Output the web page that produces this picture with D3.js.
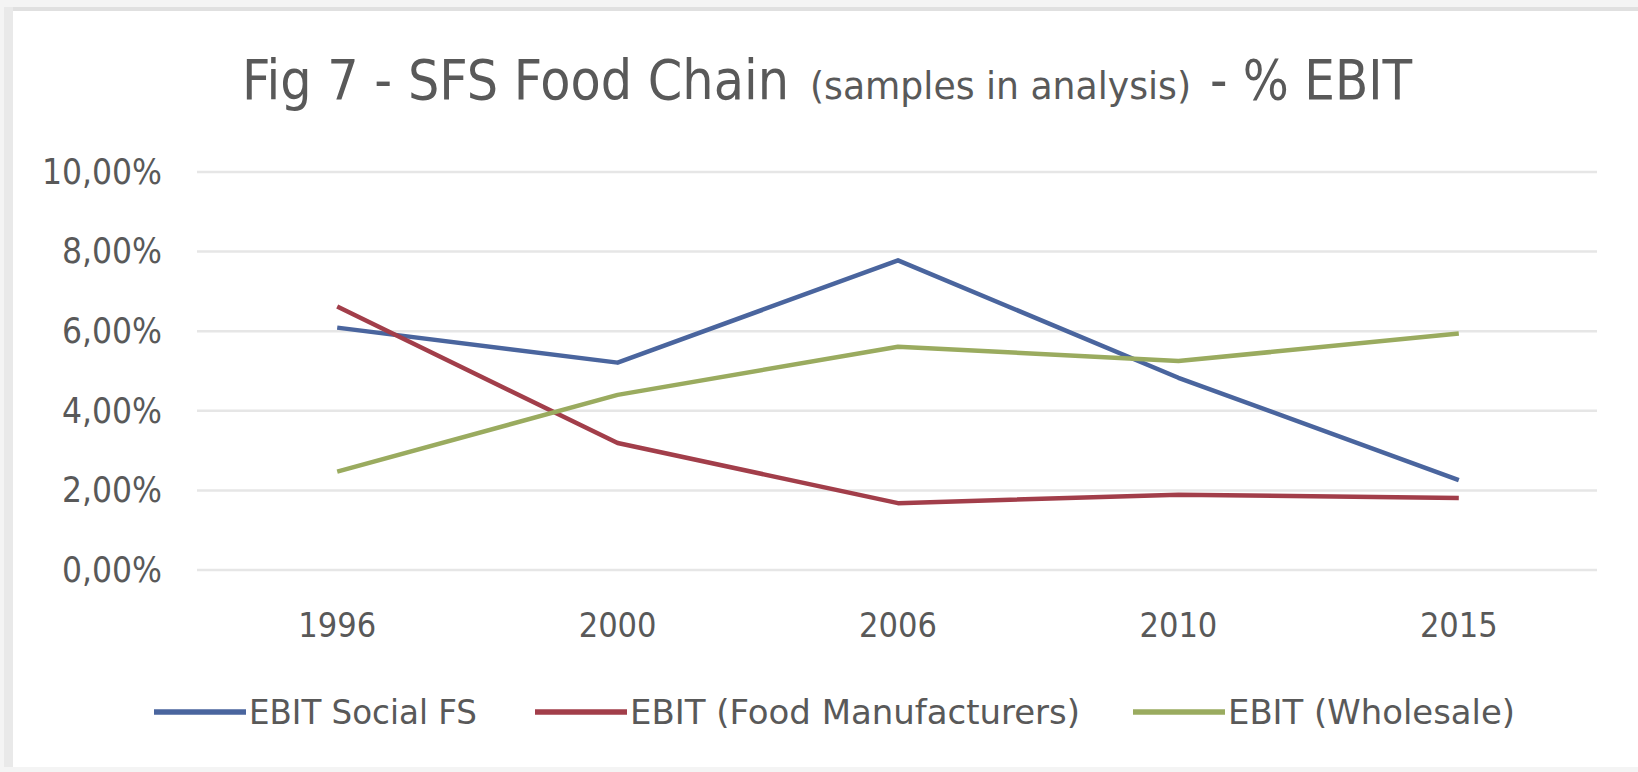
<!DOCTYPE html>
<html>
<head>
<meta charset="utf-8">
<script src="https://cdn.jsdelivr.net/npm/d3@7"></script>
<style>
  html, body { margin: 0; padding: 0; background: #f4f4f4; }
  svg { display: block; }
  text { font-family: "DejaVu Sans Condensed", "Liberation Sans Narrow", "Open Sans", sans-serif; fill: #595959; }
</style>
</head>
<body>
<svg id="chart" width="1638" height="772"></svg>
<script>
// ---- data ----
const categories = ["1996", "2000", "2006", "2010", "2015"];
const socialFS = [0.0609, 0.0521, 0.0778, 0.0483, 0.0226];
const foodManufacturers = [0.0662, 0.0319, 0.0168, 0.0189, 0.0181];
const wholesale = [0.0247, 0.0440, 0.0561, 0.0525, 0.0594];
const yTicks = [0, 0.02, 0.04, 0.06, 0.08, 0.10];
const seriesNames = ["EBIT Social FS", "EBIT (Food Manufacturers)", "EBIT (Wholesale)"];
const seriesColors = ["#4a659e", "#a23e4a", "#9aab5f"];
const titleParts = ["Fig 7 - SFS Food Chain", "(samples in analysis)", "- % EBIT"];

const series = [
  { name: seriesNames[0], values: socialFS, color: seriesColors[0] },
  { name: seriesNames[1], values: foodManufacturers, color: seriesColors[1] },
  { name: seriesNames[2], values: wholesale, color: seriesColors[2] }
];

const svg = d3.select("#chart");

// chart frame
svg.append("rect").attr("x", 13).attr("y", 11).attr("width", 1625).attr("height", 756).attr("fill", "#ffffff");
svg.append("rect").attr("x", 4).attr("y", 7).attr("width", 1634).attr("height", 4).attr("fill", "#e0e0e0");
svg.append("rect").attr("x", 4).attr("y", 7).attr("width", 9).attr("height", 760).attr("fill", "#e9e9e9");

const plot = { left: 197, right: 1599, top: 172, bottom: 570 };

const x = d3.scaleBand().domain(categories).range([plot.left, plot.right]).padding(0);
const cx = d => x(d) + x.bandwidth() / 2;
const y = d3.scaleLinear().domain([0, 0.10]).range([plot.bottom, plot.top]);

const locale = d3.formatLocale({ decimal: ",", thousands: ".", grouping: [3], currency: ["", "€"] });
const fmt = locale.format(".2%");

// gridlines
svg.append("g").selectAll("line").data(yTicks).join("line")
  .attr("x1", plot.left).attr("x2", plot.right - 2)
  .attr("y1", d => y(d)).attr("y2", d => y(d))
  .attr("stroke", "#e6e6e6").attr("stroke-width", 2.5);

// y axis
const yAxis = d3.axisLeft(y).tickValues(yTicks).tickFormat(fmt).tickSize(0).tickPadding(35);
const gy = svg.append("g").attr("transform", `translate(${plot.left},0)`).call(yAxis);
gy.select(".domain").remove();
gy.selectAll("text").attr("font-size", 35).attr("fill", "#666666")
  .style("font-family", '"DejaVu Sans Condensed", sans-serif');

// x axis
const xAxis = d3.axisBottom(x).tickSize(0).tickPadding(43);
const gx = svg.append("g").attr("transform", `translate(0,${plot.bottom})`).call(xAxis);
gx.select(".domain").remove();
gx.selectAll("text").attr("font-size", 34).attr("fill", "#666666")
  .style("font-family", '"DejaVu Sans Condensed", sans-serif');

// lines
const line = d3.line().x((d, i) => cx(categories[i])).y(d => y(d));
svg.append("g").selectAll("path").data(series).join("path")
  .attr("d", d => line(d.values))
  .attr("fill", "none").attr("stroke", d => d.color)
  .attr("stroke-width", 4.5).attr("stroke-linejoin", "round").attr("stroke-linecap", "butt");

// title
const titleX = [242, 810, 1210];
const titleW = [547, 381, 202];
const titleSize = [55, 37, 55];
svg.append("g").selectAll("text").data(titleParts).join("text")
  .attr("x", (d, i) => titleX[i]).attr("y", 99)
  .attr("font-size", (d, i) => titleSize[i])
  .attr("textLength", (d, i) => titleW[i]).attr("lengthAdjust", "spacingAndGlyphs")
  .attr("fill", "#555555")
  .text(d => d);

// legend
const legendPos = [154, 535, 1133];
const legendTextW = [228, 450, 287];
const leg = svg.append("g").selectAll("g").data(series).join("g")
  .attr("transform", (d, i) => `translate(${legendPos[i]},712)`);
leg.append("line").attr("x1", 0).attr("x2", 92).attr("y1", 0).attr("y2", 0)
  .attr("stroke", d => d.color).attr("stroke-width", 5.5);
leg.append("text").attr("x", 95).attr("y", 12).attr("font-size", 34).attr("fill", "#666666")
  .attr("textLength", (d, i) => legendTextW[i]).attr("lengthAdjust", "spacingAndGlyphs")
  .text(d => d.name);
</script>
</body>
</html>
